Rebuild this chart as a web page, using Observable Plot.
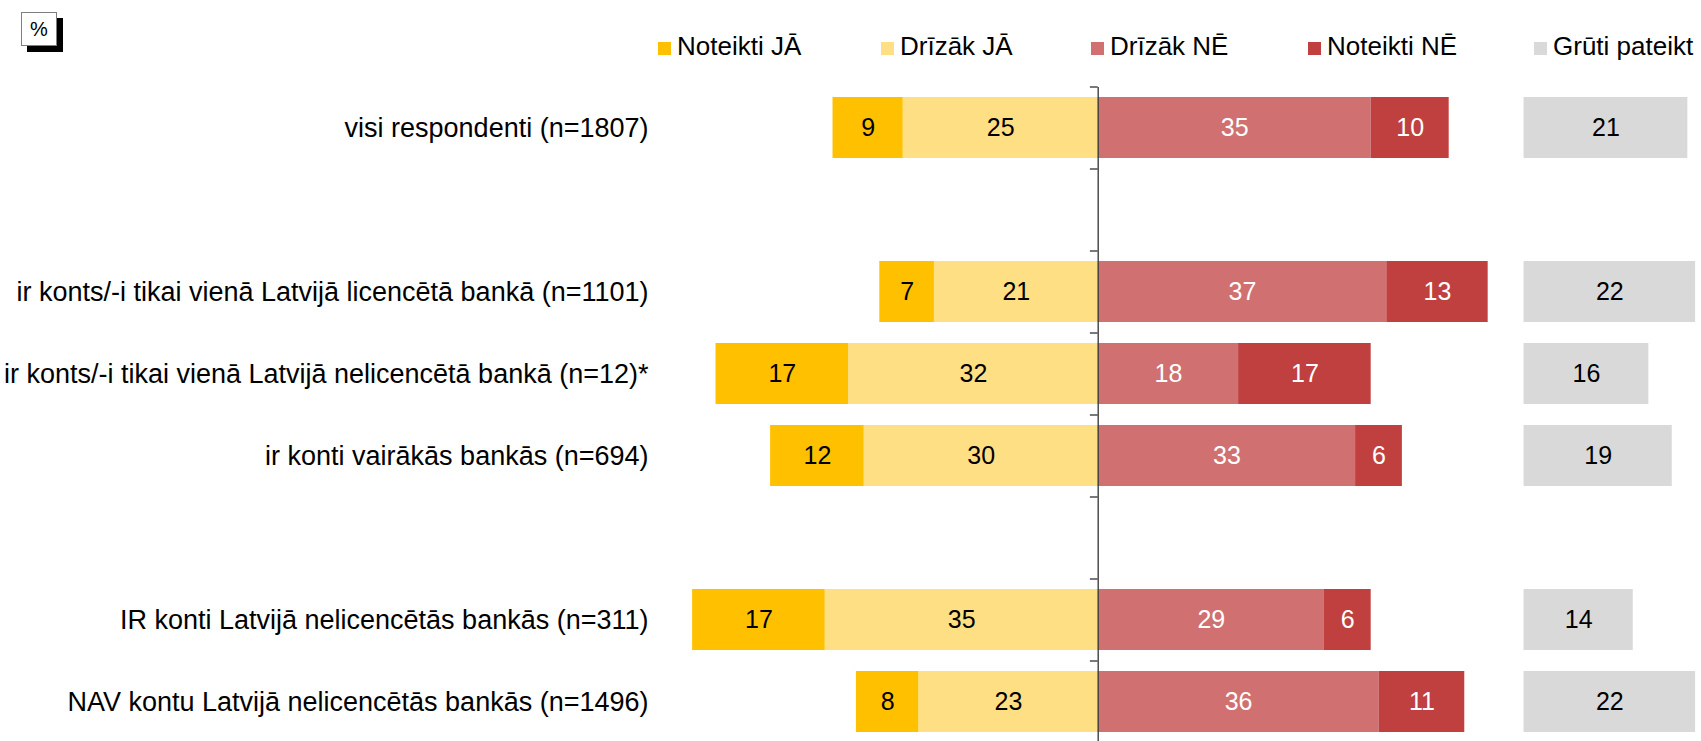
<!DOCTYPE html>
<html>
<head>
<meta charset="utf-8">
<script src="https://cdn.jsdelivr.net/npm/d3@7"></script>
<script src="https://cdn.jsdelivr.net/npm/@observablehq/plot@0.6"></script>
<style>
  html, body { margin: 0; padding: 0; background: #fff; overflow: hidden; }
  #wrap { position: relative; width: 1701px; height: 741px; font-family: "Liberation Sans", Arial, sans-serif; }
  #wrap svg { position: absolute; left: 0; top: 0; }
  #pct { position: absolute; left: 21px; top: 12px; width: 34px; height: 32px; border: 1px solid #7f7f7f; background: #fff;
         box-shadow: 6px 6px 0 #000; font-size: 20px; line-height: 32px; text-align: center; color: #000; z-index: 2; }
  #legend { position: absolute; left: 658px; top: 33px; display: flex; z-index: 2; }
  #legend .item { font-size: 26px; line-height: 26px; white-space: nowrap; color: #000; }
  #legend .sw { display: inline-block; width: 13px; height: 13px; margin-right: 6px; vertical-align: baseline; }
</style>
</head>
<body>
<div id="wrap">
  <div id="pct">%</div>
  <div id="legend"></div>
</div>
<script>
// ---- data ----
const categories = [
  "visi respondenti (n=1807)",
  "ir konts/-i tikai vienā Latvijā licencētā bankā (n=1101)",
  "ir konts/-i tikai vienā Latvijā nelicencētā bankā (n=12)*",
  "ir konti vairākās bankās (n=694)",
  "IR konti Latvijā nelicencētās bankās (n=311)",
  "NAV kontu Latvijā nelicencētās bankās (n=1496)"
];
const noteiktiJa  = [9, 7, 17, 12, 17, 8];
const drizakJa    = [25, 21, 32, 30, 35, 23];
const drizakNe    = [35, 37, 18, 33, 29, 36];
const noteiktiNe  = [10, 13, 17, 6, 6, 11];
const grutiPateikt = [21, 22, 16, 19, 14, 22];
const seriesNames = ["Noteikti JĀ", "Drīzāk JĀ", "Drīzāk NĒ", "Noteikti NĒ", "Grūti pateikt"];

// ---- styles / layout ----
const palette = {
  "Noteikti JĀ": "#FFC000",
  "Drīzāk JĀ": "#FFDF84",
  "Drīzāk NĒ": "#D07070",
  "Noteikti NĒ": "#C04040",
  "Grūti pateikt": "#D9D9D9"
};
const textColor = {
  "Noteikti JĀ": "#000", "Drīzāk JĀ": "#000", "Drīzāk NĒ": "#fff", "Noteikti NĒ": "#fff", "Grūti pateikt": "#000"
};
const legendItemWidths = [223, 210, 217, 226, 170];
const rowOrder = [categories[0], "gap1", categories[1], categories[2], categories[3], "gap2", categories[4], categories[5]];
const greyStart = 54.6;

// ---- build tables ----
const stacked = [];
categories.forEach((c, i) => {
  stacked.push({cat: c, series: "Drīzāk JĀ", v: -drizakJa[i]});
  stacked.push({cat: c, series: "Noteikti JĀ", v: -noteiktiJa[i]});
  stacked.push({cat: c, series: "Drīzāk NĒ", v: drizakNe[i]});
  stacked.push({cat: c, series: "Noteikti NĒ", v: noteiktiNe[i]});
});
const grey = categories.map((c, i) => ({cat: c, series: "Grūti pateikt", v: grutiPateikt[i]}));

// ---- legend ----
const legend = document.getElementById("legend");
seriesNames.forEach((s, i) => {
  const it = document.createElement("div");
  it.className = "item";
  it.style.width = legendItemWidths[i] + "px";
  const sw = document.createElement("span");
  sw.className = "sw";
  sw.style.background = palette[s];
  it.appendChild(sw);
  it.appendChild(document.createTextNode(s));
  legend.appendChild(it);
});

// ---- chart ----
const axisColor = "#404040";
const chart = Plot.plot({
  width: 1701,
  height: 741,
  marginTop: 87,
  marginBottom: -2,
  marginLeft: 650,
  marginRight: 0,
  style: {fontFamily: "'Liberation Sans', Arial, sans-serif", fontSize: "27px", color: "#000", background: "transparent"},
  x: {domain: [-57.4, 77.35], axis: null},
  y: {domain: rowOrder, paddingInner: 0.256, paddingOuter: 0.128, tickSize: 0, tickPadding: 2, label: null,
      tickFormat: d => d.startsWith("gap") ? "" : d},
  color: {type: "identity"},
  marks: [
    Plot.barX(stacked, Plot.stackX({x: "v", y: "cat", fill: d => palette[d.series]})),
    Plot.barX(grey, {x1: () => greyStart, x2: d => greyStart + d.v, y: "cat", fill: d => palette[d.series]}),
    Plot.text(stacked, Plot.stackX({x: "v", y: "cat", text: d => Math.abs(d.v), fill: d => textColor[d.series], fontSize: 25})),
    Plot.text(grey, {x: d => greyStart + d.v / 2, y: "cat", text: "v", fill: d => textColor[d.series], fontSize: 25}),
    Plot.ruleX([0], {stroke: axisColor, strokeWidth: 1.4}),
    Plot.ruleY(rowOrder, {y: d => d, x1: -1, x2: 0, dy: -41, stroke: axisColor, strokeWidth: 1.4})
  ]
});
document.getElementById("wrap").prepend(chart);
</script>
</body>
</html>
